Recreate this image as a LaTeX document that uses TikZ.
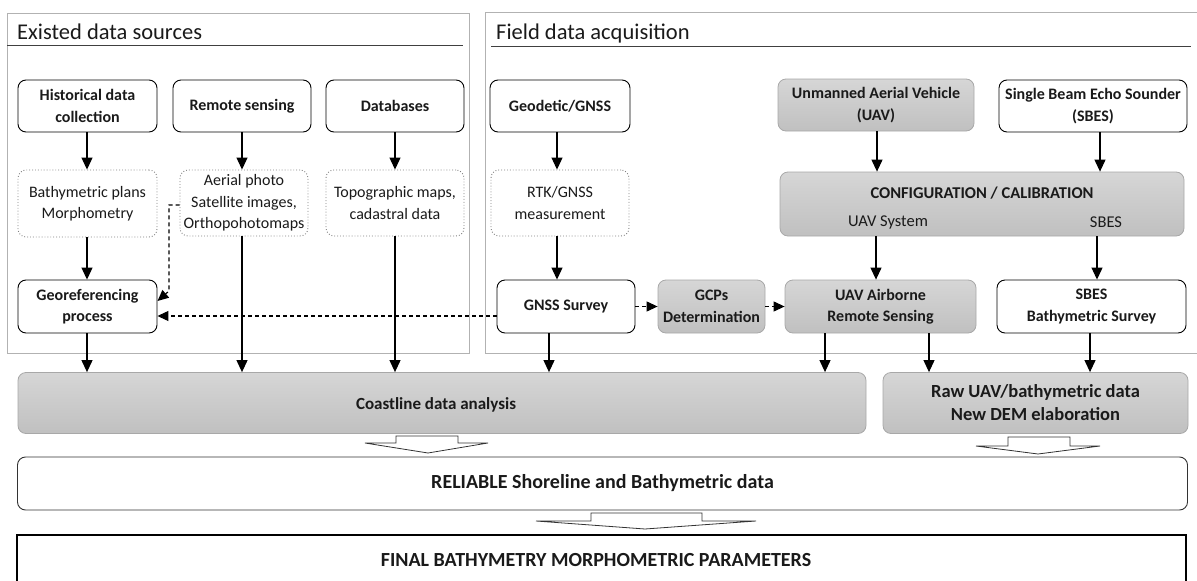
\documentclass[tikz,border=0pt]{standalone}
\usepackage{fontspec}
\setmainfont{Carlito}
\usetikzlibrary{arrows.meta}
\definecolor{gfill1}{HTML}{D6D6D6}
\definecolor{gfill2}{HTML}{C0C0C0}
\definecolor{gline}{HTML}{A8A8A8}
\definecolor{txt}{HTML}{1A1A1A}
\begin{document}
\begin{tikzpicture}[x=1pt,y=-1pt,
  every node/.style={text=txt},
  bfont/.style={font=\fontsize{16}{21.5}\selectfont\bfseries},
  rfont/.style={font=\fontsize{16}{21.5}\selectfont},
  wbox/.style={draw=black, line width=0.9pt, rounded corners=8pt, fill=white, align=center, bfont, inner sep=0pt},
  gbox/.style={draw=gline, line width=0.8pt, rounded corners=8pt, top color=gfill1, bottom color=gfill2, align=center, bfont, inner sep=0pt},
  dbox/.style={draw=gray, dotted, line width=0.9pt, rounded corners=8pt, align=center, rfont, inner sep=0pt},
  arr/.style={line width=1.1pt, -{Triangle[length=12pt,width=11pt]}},
  darr/.style={line width=1.1pt, dash pattern=on 4pt off 3pt, -{Triangle[length=11pt,width=10pt]}},
  panel/.style={draw=gray!60, line width=0.8pt},
  uline/.style={draw=black!75, line width=1pt},
  hollow/.style={draw=black!80, line width=0.8pt, fill=white, line join=miter},
  hdr/.style={font=\fontsize{22.5}{26}\selectfont, anchor=base west, inner sep=0pt}
  ]
\useasboundingbox (0,0) rectangle (1197,581);
\clip (0,0) rectangle (1197,581);

% panels
\draw[panel] (7,13) rectangle (469,353);
\draw[panel] (1200,12) -- (485,12) -- (485,353) -- (1200,353);
\node[hdr] (h1) at (17,39) {Existed data sources};
\node[hdr] (h2) at (496,39) {Field data acquisition};
\draw[uline] (7,45) -- (463,45);
\draw[uline] (491,46) -- (1191,46);

% row 1
\node[wbox, minimum width=139pt, minimum height=52pt] (hist) at (87.5,106) {Historical data\\collection};
\node[wbox, minimum width=138pt, minimum height=52pt] (remote) at (242,106) {Remote sensing};
\node[wbox, minimum width=138pt, minimum height=52pt] (db) at (395,106) {Databases};
\node[wbox, minimum width=140pt, minimum height=52pt] (geo) at (560,106) {Geodetic/GNSS};
\node[gbox, minimum width=196pt, minimum height=52pt] (uav) at (876,105) {Unmanned Aerial Vehicle\\(UAV)};
\node[wbox, minimum width=188pt, minimum height=52pt] (sbes) at (1093,106) {Single Beam Echo Sounder\\(SBES)};

% row 2
\node[dbox, minimum width=139pt, minimum height=67pt] (bathy) at (87.5,203.5) {Bathymetric plans\\Morphometry};
\node[dbox, minimum width=128pt, minimum height=66pt] (aerial) at (244,203) {Aerial photo\\Satellite images,\\Orthopohotomaps};
\node[dbox, minimum width=138pt, minimum height=66pt] (topo) at (395,203) {Topographic maps,\\cadastral data};
\node[dbox, minimum width=138pt, minimum height=66pt] (rtk) at (560,203) {RTK/GNSS\\measurement};
\node[gbox, minimum width=404pt, minimum height=64pt] (config) at (982,204) {};
\node[font=\fontsize{16.5}{20}\selectfont\bfseries, inner sep=0pt] (cfgt) at (982,193) {CONFIGURATION / CALIBRATION};
\node[font=\fontsize{16.5}{20}\selectfont, inner sep=0pt] (cfgu) at (888,222) {UAV System};
\node[font=\fontsize{16.5}{20}\selectfont, inner sep=0pt] (cfgs) at (1106,222) {SBES};

% row 3
\node[wbox, minimum width=139pt, minimum height=53pt] (georef) at (87.5,306.5) {Georeferencing\\process};
\node[wbox, minimum width=138pt, minimum height=53pt] (gnss) at (566,306.5) {GNSS Survey};
\node[gbox, minimum width=107pt, minimum height=53pt] (gcp) at (711.5,306.5) {GCPs\\Determination};
\node[gbox, minimum width=191pt, minimum height=53pt] (uavab) at (880.5,306.5) {UAV Airborne\\Remote Sensing};
\node[wbox, minimum width=189pt, minimum height=53pt] (sbess) at (1091.5,306.5) {SBES\\Bathymetric Survey};

% row 4
\node[gbox, minimum width=848pt, minimum height=61pt] (coast) at (442,403) {};
\node[font=\fontsize{17}{22}\selectfont\bfseries, inner sep=0pt] (coastt) at (436,405) {Coastline data analysis};
\node[gbox, minimum width=305pt, minimum height=61pt, font=\fontsize{18.5}{23}\selectfont\bfseries] (raw) at (1035.5,403) {Raw UAV/bathymetric data\\New DEM elaboration};

% bottom boxes
\node[draw=black!80, line width=0.9pt, rounded corners=8pt, minimum width=1170pt, minimum height=53pt, font=\fontsize{20}{24}\selectfont\bfseries] (rel) at (602.5,483.5) {RELIABLE Shoreline and Bathymetric data};
\node[draw=black, line width=1.8pt, minimum width=1169pt, minimum height=60pt, anchor=north, inner sep=0pt] (final) at (601.5,534) {};
\node[font=\fontsize{20}{24}\selectfont\bfseries, inner sep=0pt] (finalt) at (596,560) {FINAL BATHYMETRY MORPHOMETRIC PARAMETERS};

% x positions
\coordinate (x87) at (87,0);
\coordinate (x242) at (242,0);
\coordinate (x395) at (395,0);
\coordinate (x557) at (557,0);
\coordinate (x549) at (549,0);
\coordinate (x877) at (877,0);
\coordinate (x1100) at (1100,0);
\coordinate (x876) at (876,0);
\coordinate (x1097) at (1097,0);
\coordinate (x825) at (825,0);
\coordinate (x929) at (929,0);
\coordinate (x1090) at (1090,0);

% arrows
\draw[arr] (hist.south -| x87) -- (bathy.north -| x87);
\draw[arr] (bathy.south -| x87) -- (georef.north -| x87);
\draw[arr] (remote.south -| x242) -- (aerial.north -| x242);
\draw[arr] (db.south -| x395) -- (topo.north -| x395);
\draw[arr] (aerial.south -| x242) -- (coast.north -| x242);
\draw[arr] (topo.south -| x395) -- (coast.north -| x395);
\draw[arr] (georef.south -| x87) -- (coast.north -| x87);
\draw[arr] (geo.south -| x557) -- (rtk.north -| x557);
\draw[arr] (rtk.south -| x557) -- (gnss.north -| x557);
\draw[arr] (gnss.south -| x549) -- (coast.north -| x549);
\draw[arr] (uav.south -| x877) -- (config.north -| x877);
\draw[arr] (sbes.south -| x1100) -- (config.north -| x1100);
\draw[arr] (config.south -| x876) -- (uavab.north -| x876);
\draw[arr] (config.south -| x1097) -- (sbess.north -| x1097);
\draw[arr] (uavab.south -| x825) -- (coast.north -| x825);
\draw[arr] (uavab.south -| x929) -- (raw.north -| x929);
\draw[arr] (sbess.south -| x1090) -- (raw.north -| x1090);

% dashed arrows
\coordinate (e1) at (169,205);
\coordinate (e2) at (169,291);
\coordinate (e3) at (157.5,301);
\draw[darr] (aerial.west |- e1) -- (e1) -- (e2) -- (e3);
\coordinate (y316) at (0,316);
\draw[darr] (gnss.west |- y316) -- (georef.east |- y316);
\draw[darr] (gnss.east) -- (gcp.west);
\draw[darr] (gcp.east) -- (uavab.west);

% hollow block arrows
\draw[hollow] (396,436) -- (458,436) -- (458,443) -- (488,443) -- (428,453) -- (365,443) -- (396,443) -- cycle;
\draw[hollow] (1008,437) -- (1070,437) -- (1070,446) -- (1100,446) -- (1038,454) -- (976,446) -- (1008,446) -- cycle;
\draw[hollow] (591,513) -- (702,513) -- (702,521) -- (756,521) -- (645,529) -- (536,521) -- (591,521) -- cycle;
\end{tikzpicture}
\end{document}
